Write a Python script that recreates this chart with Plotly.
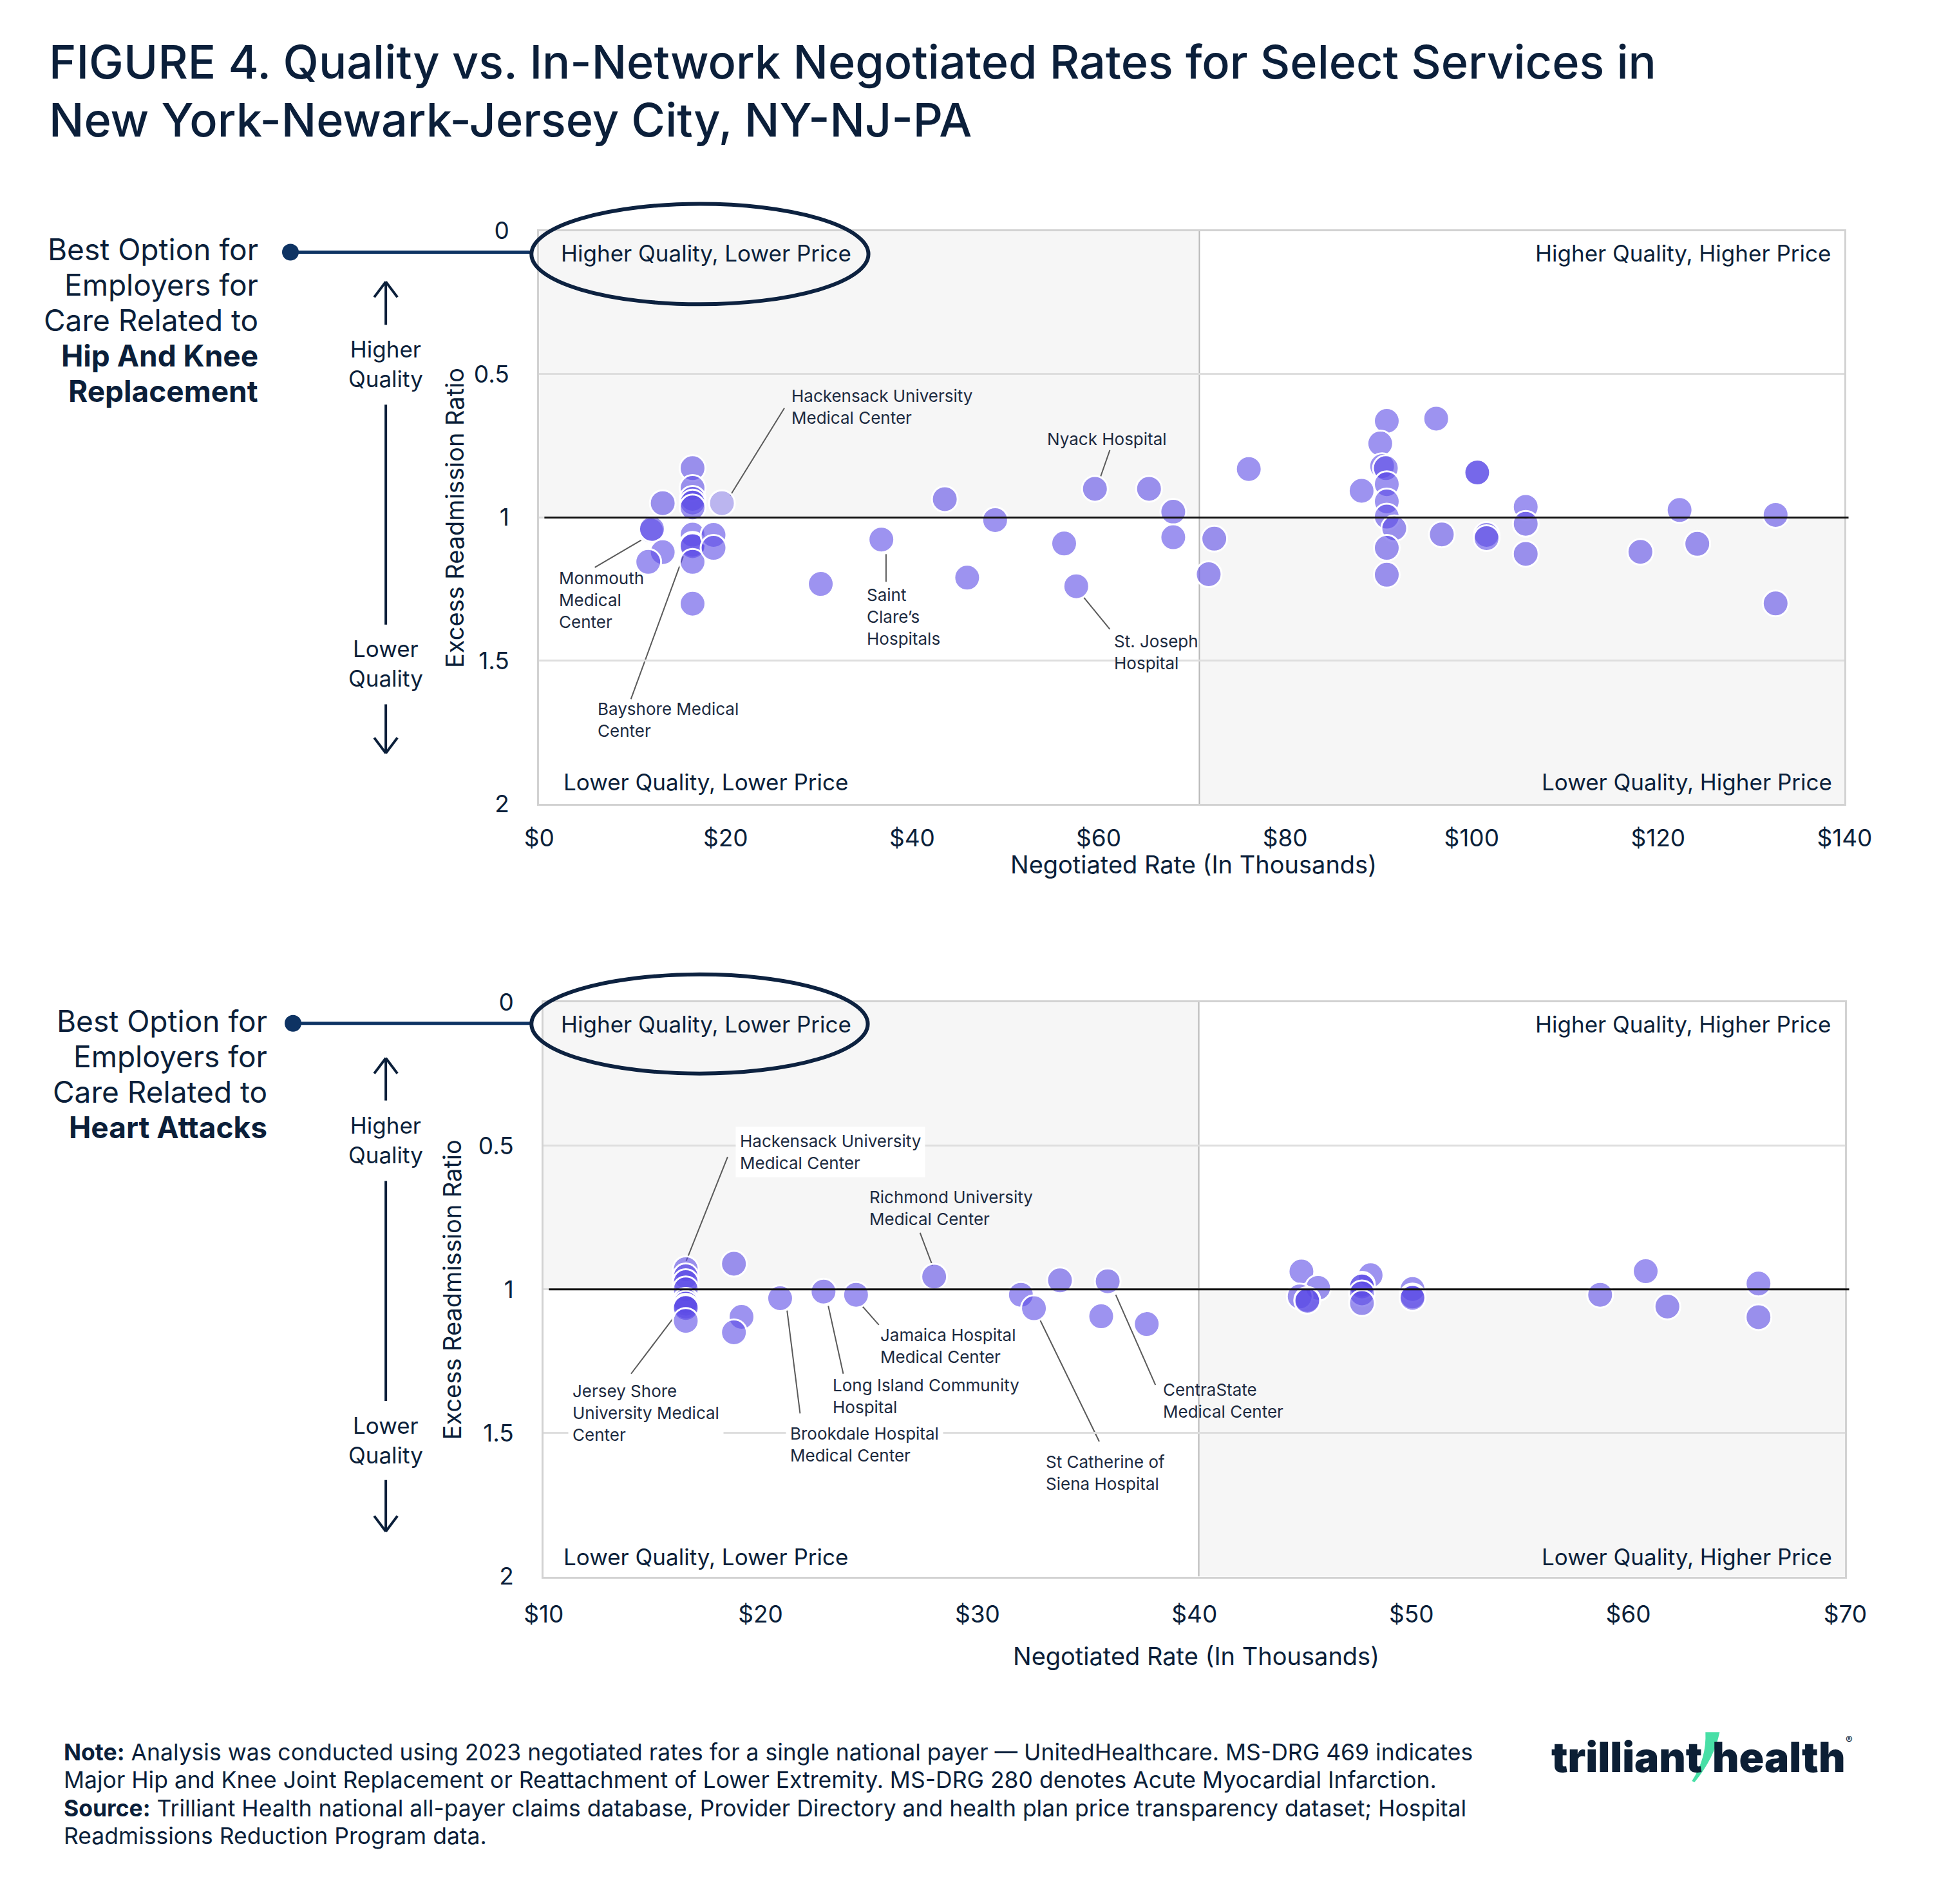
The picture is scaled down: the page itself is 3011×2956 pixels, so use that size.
import plotly.graph_objects as go

W, H = 3011, 2956
NAVY = "#0b1f3a"
FONT = "Inter"

# ---------------- data: hip & knee replacement ----------------
hip_rate = [16.45, 16.45, 16.45, 16.45, 16.45, 13.25, 12.0, 12.1, 13.25, 11.7,
            16.45, 16.45, 16.45, 16.45, 18.7, 18.7, 16.45, 30.2, 36.7, 43.5,
            45.9, 48.9, 56.3, 57.6, 59.6, 65.4, 68.0, 68.0, 72.4, 71.8,
            76.1, 90.9, 96.2, 90.2, 90.4, 90.8, 88.2, 90.9, 90.9, 90.9,
            91.7, 90.9, 90.9, 100.6, 100.6, 96.8, 101.6, 101.6, 105.8, 105.8,
            105.8, 118.1, 122.3, 124.2, 132.6, 132.6]
hip_ratio = [0.828, 0.897, 0.935, 0.948, 0.965, 0.950, 1.046, 1.040, 1.121, 1.155,
             1.060, 1.095, 1.100, 1.155, 1.061, 1.106, 1.301, 1.232, 1.077, 0.936,
             1.210, 1.009, 1.091, 1.240, 0.900, 0.900, 0.980, 1.069, 1.074, 1.198,
             0.831, 0.663, 0.655, 0.742, 0.821, 0.828, 0.907, 0.884, 0.944, 0.997,
             1.038, 1.106, 1.200, 0.843, 0.843, 1.059, 1.061, 1.072, 0.963, 1.022,
             1.127, 1.120, 0.974, 1.092, 0.991, 1.300]
hip_faded_rate = [19.6]
hip_faded_ratio = [0.950]
hip_split_rate = 70.8

# ---------------- data: heart attacks ----------------
heart_rate = [16.55, 16.55, 16.55, 16.55, 16.55, 16.55, 16.55, 16.55, 16.55, 18.77,
              19.12, 18.77, 20.9, 22.9, 24.4, 28.0, 32.0, 32.6, 33.8, 36.0,
              35.7, 37.8, 44.93, 45.7, 44.85, 45.2, 45.2, 48.12, 47.72, 47.72,
              47.72, 47.72, 50.05, 50.05, 50.05, 58.7, 60.8, 61.8, 66.0, 66.0]
heart_ratio = [0.930, 0.955, 0.975, 1.000, 1.040, 1.050, 1.060, 1.065, 1.110, 0.911,
               1.096, 1.150, 1.031, 1.008, 1.019, 0.956, 1.019, 1.066, 0.969, 0.972,
               1.094, 1.121, 0.938, 0.995, 1.025, 1.037, 1.040, 0.951, 0.984, 0.990,
               1.014, 1.048, 0.999, 1.025, 1.030, 1.019, 0.937, 1.060, 0.980, 1.097]
heart_split_rate = 40.2

# ---------------- ticks ----------------
hip_xticks = [0, 20, 40, 60, 80, 100, 120, 140]
hip_xtick_text = ["$0", "$20", "$40", "$60", "$80", "$100", "$120", "$140"]
heart_xticks = [10, 20, 30, 40, 50, 60, 70]
heart_xtick_text = ["$10", "$20", "$30", "$40", "$50", "$60", "$70"]
yticks = [0, 0.5, 1, 1.5, 2]
ytick_text = ["0", "0.5", "1", "1.5", "2"]

# ---------------- hospital labels ----------------
hip_label_names = ["Hackensack University<br>Medical Center", "Nyack Hospital",
                   "Monmouth<br>Medical<br>Center", "Bayshore Medical<br>Center",
                   "Saint<br>Clare’s<br>Hospitals", "St. Joseph<br>Hospital"]
hip_label_x = [26.95, 54.3, 2.0, 6.15, 34.97, 61.5]
hip_label_y = [0.613, 0.725, 1.288, 1.707, 1.347, 1.471]
hip_lead_x0 = [26.3, 61.2, 5.97, 9.84, 37.2, 61.2]
hip_lead_y0 = [0.618, 0.765, 1.174, 1.634, 1.2245, 1.39]
hip_lead_x1 = [20.5, 60.2, 11.0, 15.5, 37.2, 58.3]
hip_lead_y1 = [0.923, 0.858, 1.078, 1.131, 1.128, 1.275]

heart_label_names = ["Hackensack University<br>Medical Center", "Richmond University<br>Medical Center",
                     "Jamaica Hospital<br>Medical Center", "Long Island Community<br>Hospital",
                     "Brookdale Hospital<br>Medical Center", "St Catherine of<br>Siena Hospital",
                     "CentraState<br>Medical Center", "Jersey Shore<br>University Medical<br>Center"]
heart_label_x = [18.85, 24.94, 25.45, 23.25, 21.14, 33.1, 38.48, 11.12]
heart_label_y = [0.521, 0.718, 1.196, 1.373, 1.541, 1.639, 1.388, 1.431]
heart_label_bg = [True, False, False, False, True, False, False, True]
heart_lead_x0 = [18.48, 27.35, 25.45, 23.81, 21.82, 35.61, 38.2, 14.03]
heart_lead_y0 = [0.539, 0.803, 1.124, 1.294, 1.432, 1.53, 1.333, 1.294]
heart_lead_x1 = [16.57, 27.92, 24.68, 23.12, 21.22, 32.87, 36.37, 16.01]
heart_lead_y1 = [0.901, 0.917, 1.058, 1.058, 1.074, 1.105, 1.019, 1.097]


# ---------------- helpers (pixel layout -> paper) ----------------
def PX(x):
    return (1.0258 * x - 31) / W


def PY(y):
    return 1 - (1.014 * y - 22.3) / H


annotations = []
shapes = []


def text(t, x, y, size, xanchor="left", yanchor="middle", weight=400, color=NAVY, align="left", **kw):
    annotations.append(dict(text=t, x=PX(x), y=PY(y), xref="paper", yref="paper",
                            xanchor=xanchor, yanchor=yanchor, showarrow=False, align=align,
                            font=dict(family=FONT, size=size, color=color, weight=weight), **kw))


def pline(x0, y0, x1, y1, color=NAVY, width=4):
    shapes.append(dict(type="line", xref="paper", yref="paper", x0=PX(x0), y0=PY(y0),
                       x1=PX(x1), y1=PY(y1), line=dict(color=color, width=width)))


MARK = dict(size=40, color="rgba(92,75,230,0.6)", line=dict(color="white", width=3))

fig = go.Figure()
fig.add_trace(go.Scatter(x=hip_rate, y=hip_ratio, mode="markers", marker=MARK,
                         xaxis="x", yaxis="y", showlegend=False, cliponaxis=False))
fig.add_trace(go.Scatter(x=hip_faded_rate, y=hip_faded_ratio, mode="markers",
                         marker=dict(size=40, color="rgba(92,75,230,0.38)", line=dict(color="white", width=3)),
                         xaxis="x", yaxis="y", showlegend=False))
fig.add_trace(go.Scatter(x=heart_rate, y=heart_ratio, mode="markers", marker=MARK,
                         xaxis="x2", yaxis="y2", showlegend=False, cliponaxis=False))

# ---------------- panels ----------------
panels = [
    dict(xa="x", ya="y", xmin=0, xmax=140, split=hip_split_rate,
         names=hip_label_names, lx=hip_label_x, ly=hip_label_y, bg=[False] * 6,
         x0=hip_lead_x0, y0=hip_lead_y0, x1=hip_lead_x1, y1=hip_lead_y1),
    dict(xa="x2", ya="y2", xmin=10, xmax=70, split=heart_split_rate,
         names=heart_label_names, lx=heart_label_x, ly=heart_label_y, bg=heart_label_bg,
         x0=heart_lead_x0, y0=heart_lead_y0, x1=heart_lead_x1, y1=heart_lead_y1),
]
for p in panels:
    shapes.append(dict(type="rect", xref=p["xa"], yref=p["ya"], x0=p["xmin"], x1=p["split"], y0=0, y1=1,
                       fillcolor="#f6f6f6", line=dict(width=0), layer="below"))
    shapes.append(dict(type="rect", xref=p["xa"], yref=p["ya"], x0=p["split"], x1=p["xmax"], y0=1, y1=2,
                       fillcolor="#f6f6f6", line=dict(width=0), layer="below"))
    shapes.append(dict(type="line", xref=p["xa"], yref=p["ya"], x0=p["split"], x1=p["split"], y0=0, y1=2,
                       line=dict(color="#b8b8b8", width=2), layer="below"))
    for a, b, c, d in zip(p["x0"], p["y0"], p["x1"], p["y1"]):
        shapes.append(dict(type="line", xref=p["xa"], yref=p["ya"], x0=a, y0=b, x1=c, y1=d,
                           line=dict(color="#5a5a5a", width=2), layer="below"))
    shapes.append(dict(type="line", xref=p["xa"] + " domain", yref=p["ya"], x0=0.004, x1=1.003, y0=1, y1=1,
                       line=dict(color="#111111", width=3), layer="above"))
    for n, lx, ly, bg in zip(p["names"], p["lx"], p["ly"], p["bg"]):
        ann = dict(text=n, x=lx, y=ly, xref=p["xa"], yref=p["ya"], xanchor="left", yanchor="middle",
                   align="left", showarrow=False, font=dict(family=FONT, size=26, color="#1c2a40"))
        if bg:
            ann.update(bgcolor="white", borderpad=6)
        annotations.append(ann)

# ---------------- title ----------------
text("FIGURE 4. Quality vs. In-Network Negotiated Rates for Select Services in", 73, 95, 72, weight=500)
text("New York-Newark-Jersey City, NY-NJ-PA", 73, 185, 72, weight=500)

# ---------------- quadrant labels ----------------
for (yt, yb) in [(393, 1215), (1591, 2419)]:
    text("Higher Quality, Lower Price", 868, yt, 35)
    text("Higher Quality, Higher Price", 2843, yt, 35, xanchor="right")
    text("Lower Quality, Lower Price", 872, yb, 35)
    text("Lower Quality, Higher Price", 2845, yb, 35, xanchor="right")

# ---------------- left side descriptors ----------------
left_top = [("Best Option for", 400), ("Employers for", 400), ("Care Related to", 400),
            ("Hip And Knee", 700), ("Replacement", 700)]
for i, (t, w) in enumerate(left_top):
    text(t, 402, 387 + i * 55, 46, xanchor="right", weight=w)
left_bot = [("Best Option for", 400), ("Employers for", 400), ("Care Related to", 400),
            ("Heart Attacks", 700)]
for i, (t, w) in enumerate(left_bot):
    text(t, 416, 1586 + i * 55, 46, xanchor="right", weight=w)

for (dot_x, dot_y, ell) in [(450, 391, (824, 316, 1347, 472)), (454, 1590, (824, 1514, 1346, 1668))]:
    pline(dot_x, dot_y, ell[0], dot_y, color="#0e3363", width=5)
    shapes.append(dict(type="circle", xref="paper", yref="paper", x0=PX(dot_x - 13), x1=PX(dot_x + 13),
                       y0=PY(dot_y + 13), y1=PY(dot_y - 13), fillcolor="#0e3363", line=dict(width=0)))
    shapes.append(dict(type="circle", xref="paper", yref="paper", x0=PX(ell[0]), x1=PX(ell[2]),
                       y0=PY(ell[3]), y1=PY(ell[1]), line=dict(color="#0d2240", width=6)))

# quality arrows
for (up0, up1, hq, l0, l1, lq, dn0, dn1) in [(437, 504, 565, 628, 970, 1030, 1094, 1170),
                                             (1644, 1710, 1772, 1835, 2177, 2238, 2300, 2380)]:
    ax_ = 598
    pline(ax_, up0, ax_, up1, width=4)
    pline(ax_ - 18, up0 + 24, ax_, up0, width=4)
    pline(ax_ + 18, up0 + 24, ax_, up0, width=4)
    text("Higher<br>Quality", ax_, hq, 35, xanchor="center", align="center")
    pline(ax_, l0, ax_, l1, width=4)
    text("Lower<br>Quality", ax_, lq, 35, xanchor="center", align="center")
    pline(ax_, dn0, ax_, dn1, width=4)
    pline(ax_ - 18, dn1 - 24, ax_, dn1, width=4)
    pline(ax_ + 18, dn1 - 24, ax_, dn1, width=4)

# axis titles
text("Excess Readmission Ratio", 705, 804, 38, xanchor="center", textangle=-90)
text("Excess Readmission Ratio", 701, 2004, 38, xanchor="center", textangle=-90)
text("Negotiated Rate (In Thousands)", 1852, 1343, 38, xanchor="center")
text("Negotiated Rate (In Thousands)", 1856, 2574, 38, xanchor="center")

# ---------------- notes ----------------
notes = ["<b>Note:</b> Analysis was conducted using 2023 negotiated rates for a single national payer — UnitedHealthcare. MS-DRG 469 indicates",
         "Major Hip and Knee Joint Replacement or Reattachment of Lower Extremity. MS-DRG 280 denotes Acute Myocardial Infarction.",
         "<b>Source:</b> Trilliant Health national all-payer claims database, Provider Directory and health plan price transparency dataset; Hospital",
         "Readmissions Reduction Program data."]
for i, t in enumerate(notes):
    text(t, 96, 2723 + i * 43.5, 35.5)

# ---------------- logo ----------------
shapes.append(dict(type="path", xref="paper", yref="paper",
                   path=f"M {PX(2646)} {PY(2692)} L {PX(2668)} {PY(2692)} Q {PX(2660)} {PY(2732)} {PX(2629)} {PY(2770)} "
                        f"L {PX(2625)} {PY(2768)} Q {PX(2648)} {PY(2732)} {PX(2646)} {PY(2692)} Z",
                   fillcolor="#48dfa6", line=dict(width=0)))
text("trilliant", 2643, 2730, 64, xanchor="right", weight=900, color="#0c1f35")
text("health", 2655, 2730, 64, xanchor="left", weight=900, color="#0c1f35")
text("®", 2862, 2704, 16, xanchor="left", color="#0c1f35")

# ---------------- layout ----------------
axis_common = dict(showline=True, mirror=True, linecolor="#d2d2d2", linewidth=3, zeroline=False,
                   ticks="", tickfont=dict(family=FONT, size=37, color=NAVY))
fig.update_layout(
    width=W, height=H, margin=dict(l=0, r=0, t=0, b=0),
    paper_bgcolor="white", plot_bgcolor="white",
    xaxis=dict(domain=[PX(836), PX(2862)], range=[0, 140], tickvals=hip_xticks, ticktext=hip_xtick_text,
               showgrid=False, anchor="y", ticklabelstandoff=18, **axis_common),
    yaxis=dict(domain=[PY(1249), PY(358)], range=[2, 0], tickvals=yticks, ticktext=ytick_text,
               showgrid=True, gridcolor="#dedede", gridwidth=3, anchor="x", ticklabelstandoff=36, **axis_common),
    xaxis2=dict(domain=[PX(843), PX(2863)], range=[10, 70], tickvals=heart_xticks, ticktext=heart_xtick_text,
                showgrid=False, anchor="y2", ticklabelstandoff=24, **axis_common),
    yaxis2=dict(domain=[PY(2450), PY(1557)], range=[2, 0], tickvals=yticks, ticktext=ytick_text,
                showgrid=True, gridcolor="#dedede", gridwidth=3, anchor="x2", ticklabelstandoff=36, **axis_common),
    shapes=shapes, annotations=annotations,
    font=dict(family=FONT, color=NAVY),
)

fig.write_html("out.html", config={"displayModeBar": False},
               post_script="document.body.style.margin='0';document.body.style.overflow='hidden';")
